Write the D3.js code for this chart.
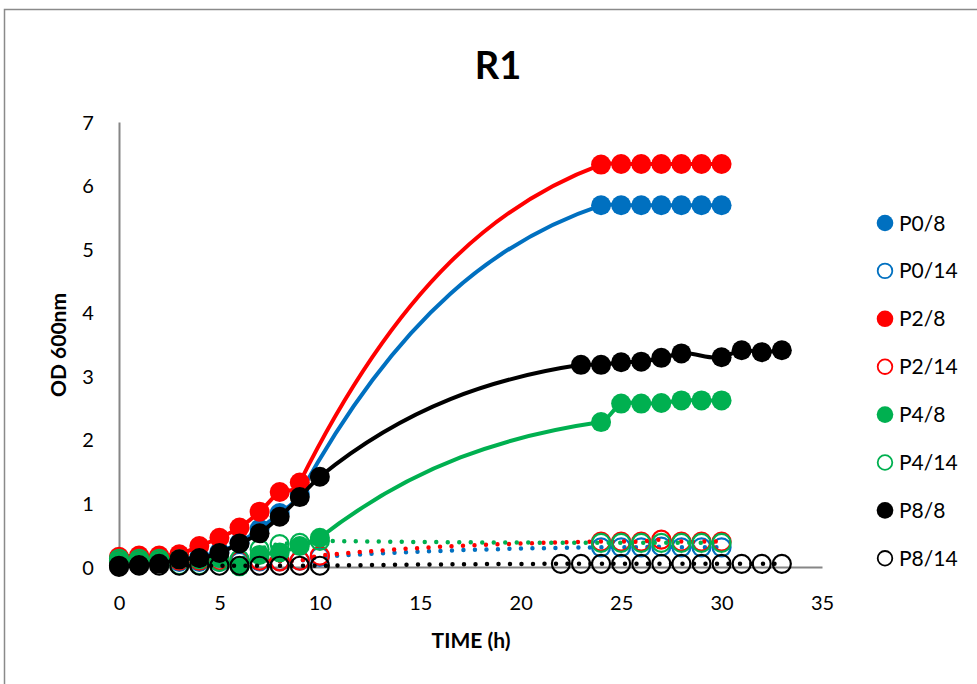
<!DOCTYPE html>
<html><head><meta charset="utf-8">
<script src="https://cdn.jsdelivr.net/npm/d3@7"></script>
<style>body{margin:0;background:#fff;} svg{display:block;}</style>
</head><body>
<svg id="chart" width="977" height="684"></svg>
<script>
// ---------- DATA ----------
const seriesNames  = ["P0/8","P0/14","P2/8","P2/14","P4/8","P4/14","P8/8","P8/14"];
const seriesColors = ["#0070C0","#0070C0","#FF0000","#FF0000","#00B050","#00B050","#000000","#000000"];
const seriesFilled = [true,false,true,false,true,false,true,false];

const hoursP0_8  = [0,1,2,3,4,5,6,7,8,9,24,25,26,27,28,29,30];
const valuesP0_8 = [0.10,0.10,0.10,0.12,0.16,0.24,0.38,0.60,0.85,1.15,5.69,5.69,5.69,5.69,5.69,5.69,5.69];

const hoursP0_14  = [0,1,2,3,4,5,6,7,8,9,10,24,25,26,27,28,29,30];
const valuesP0_14 = [0.08,0.08,0.08,0.08,0.08,0.08,0.08,0.09,0.09,0.10,0.16,0.31,0.31,0.31,0.32,0.31,0.31,0.31];

const hoursP2_8  = [0,1,2,3,4,5,6,7,8,9,24,25,26,27,28,29,30];
const valuesP2_8 = [0.16,0.18,0.18,0.20,0.33,0.46,0.62,0.87,1.18,1.33,6.33,6.34,6.34,6.34,6.34,6.34,6.34];

const hoursP2_14  = [0,1,2,3,4,5,6,7,8,9,10,24,25,26,27,28,29,30];
const valuesP2_14 = [0.10,0.10,0.10,0.10,0.10,0.10,0.10,0.10,0.09,0.10,0.18,0.40,0.40,0.40,0.43,0.40,0.40,0.40];

const hoursP4_8  = [0,1,2,3,4,5,6,7,8,9,10,24,25,26,27,28,29,30];
const valuesP4_8 = [0.10,0.10,0.10,0.12,0.12,0.14,0.01,0.19,0.23,0.33,0.46,2.28,2.57,2.57,2.58,2.62,2.62,2.62];

const hoursP4_14  = [0,1,2,3,4,5,6,7,8,9,10,24,25,26,27,28,29,30];
const valuesP4_14 = [0.13,0.13,0.13,0.03,0.03,0.08,0.12,0.28,0.36,0.38,0.41,0.38,0.38,0.38,0.38,0.38,0.38,0.38];

const hoursP8_8  = [0,1,2,3,4,5,6,7,8,9,10,23,24,25,26,27,28,30,31,32,33];
const valuesP8_8 = [0.00,0.03,0.05,0.12,0.14,0.22,0.37,0.53,0.79,1.10,1.42,3.18,3.18,3.22,3.23,3.29,3.36,3.30,3.41,3.38,3.41];

const hoursP8_14  = [0,1,2,3,4,5,6,7,8,9,10,22,23,24,25,26,27,28,29,30,31,32,33];
const valuesP8_14 = [0.02,0.02,0.02,0.02,0.02,0.02,0.02,0.02,0.02,0.02,0.02,0.05,0.05,0.05,0.05,0.05,0.05,0.05,0.05,0.05,0.05,0.05,0.05];

const xTicks = [0,5,10,15,20,25,30,35];
const yTicks = [0,1,2,3,4,5,6,7];
const chartTitle = "R1";
const xTitle = "TIME (h)";
const yTitle = "OD 600nm";

const seriesHours  = [hoursP0_8,hoursP0_14,hoursP2_8,hoursP2_14,hoursP4_8,hoursP4_14,hoursP8_8,hoursP8_14];
const seriesValues = [valuesP0_8,valuesP0_14,valuesP2_8,valuesP2_14,valuesP4_8,valuesP4_14,valuesP8_8,valuesP8_14];

// ---------- LAYOUT ----------
const svg = d3.select("#chart");
const x = d3.scaleLinear().domain([0,35]).range([119,822]);
const y = d3.scaleLinear().domain([0,7]).range([567,122]);
const FONT = "Lato, 'Open Sans', sans-serif";

// outer chart border
svg.append("rect").attr("x",4.5).attr("y",9.5).attr("width",1100).attr("height",1000)
  .attr("fill","#fff").attr("stroke","#8a8a8a").attr("stroke-width",1.5);

// smooth curve (Excel-like smoothed line)
const GAP_START = 1.9, GAP_END = 0.35;
function curveSmooth(context){
  let xs, ys;
  return {
    areaStart(){}, areaEnd(){},
    lineStart(){ xs=[]; ys=[]; },
    point(px,py){ xs.push(+px); ys.push(+py); },
    lineEnd(){
      const n = xs.length;
      if(!n) return;
      context.moveTo(xs[0],ys[0]);
      if(n===1) return;
      const m = new Array(n);
      for(let i=0;i<n;i++){
        const h0 = i>0 ? xs[i]-xs[i-1] : 0;
        const h1 = i<n-1 ? xs[i+1]-xs[i] : 0;
        const s0 = i>0 ? (ys[i]-ys[i-1])/h0 : 0;
        const s1 = i<n-1 ? (ys[i+1]-ys[i])/h1 : 0;
        if(i===0) m[i]=s1;
        else if(i===n-1) m[i]=s0;
        else if(h1>3*h0) m[i]=GAP_START*s1;
        else if(h0>3*h1) m[i]=GAP_END*s0;
        else m[i]=(s0*h1+s1*h0)/(h0+h1);
      }
      for(let i=0;i<n-1;i++){
        const h = xs[i+1]-xs[i];
        context.bezierCurveTo(xs[i]+h/3, ys[i]+m[i]*h/3, xs[i+1]-h/3, ys[i+1]-m[i+1]*h/3, xs[i+1], ys[i+1]);
      }
    }
  };
}

// axes (lines only, no ticks)
const xAxis = d3.axisBottom(x).tickValues(xTicks).tickSize(0).tickPadding(0).tickFormat(d3.format("d"));
const yAxis = d3.axisLeft(y).tickValues(yTicks).tickSize(0).tickPadding(0).tickFormat(d3.format("d"));

const gx = svg.append("g").attr("transform","translate(0,567)").call(xAxis);
gx.select(".domain").attr("stroke","#868686").attr("stroke-width",2);
gx.selectAll("text").attr("font-family",FONT).attr("font-size",20).attr("fill","#000")
  .attr("dy",null).attr("y",43);

const gy = svg.append("g").attr("transform","translate(119,0)").call(yAxis);
gy.select(".domain").attr("stroke","#868686").attr("stroke-width",2);
gy.selectAll("text").attr("font-family",FONT).attr("font-size",20).attr("fill","#000")
  .attr("x",-31).attr("text-anchor","middle").attr("dy","0.35em");

// series
const line = d3.line().x(d=>x(d[0])).y(d=>y(d[1])).curve(curveSmooth);
const plot = svg.append("g");
seriesNames.forEach((name,i)=>{
  const pts = seriesHours[i].map((h,j)=>[h,seriesValues[i][j]]);
  const g = plot.append("g").attr("class","series");
  g.append("path").datum(pts).attr("d",line).attr("fill","none")
    .attr("stroke",seriesColors[i])
    .attr("stroke-width",seriesFilled[i]?4:4.5)
    .attr("stroke-linecap","round")
    .attr("stroke-dasharray",seriesFilled[i]?null:"0 11.5");
  g.selectAll("circle").data(pts).join("circle")
    .attr("cx",d=>x(d[0])).attr("cy",d=>y(d[1]))
    .attr("r",seriesFilled[i]?10:9)
    .attr("fill",seriesFilled[i]?seriesColors[i]:"none")
    .attr("stroke",seriesFilled[i]?"none":seriesColors[i])
    .attr("stroke-width",2.2);
});

// titles
svg.append("text").attr("x",498).attr("y",79).attr("text-anchor","middle")
  .attr("font-family",FONT).attr("font-weight","bold").attr("font-size",38).text(chartTitle);
svg.append("text").attr("x",471).attr("y",648).attr("text-anchor","middle")
  .attr("font-family",FONT).attr("font-weight","bold").attr("font-size",21).text(xTitle);
svg.append("text").attr("transform","translate(66,345) rotate(-90)").attr("text-anchor","middle")
  .attr("font-family",FONT).attr("font-weight","bold").attr("font-size",21).text(yTitle);

// legend
const legend = svg.append("g");
seriesNames.forEach((name,i)=>{
  const ly = 223 + i*47.9;
  legend.append("circle").attr("cx",885).attr("cy",ly)
    .attr("r",seriesFilled[i]?8.3:7.3)
    .attr("fill",seriesFilled[i]?seriesColors[i]:"none")
    .attr("stroke",seriesFilled[i]?"none":seriesColors[i]).attr("stroke-width",1.8);
  legend.append("text").attr("x",899).attr("y",ly).attr("dy","0.36em")
    .attr("font-family",FONT).attr("font-size",21).attr("fill","#000").text(name);
});
</script>
</body></html>
